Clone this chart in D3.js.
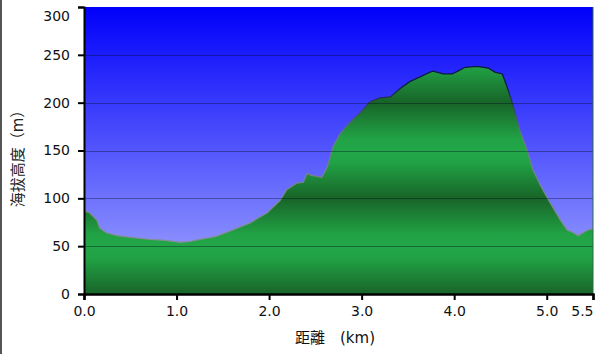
<!DOCTYPE html>
<html>
<head>
<meta charset="utf-8">
<script src="https://cdn.jsdelivr.net/npm/d3@7"></script>
<style>
    html, body { margin: 0; padding: 0; background: #fff; }
    svg { display: block; font-family: "DejaVu Sans", "Noto Sans CJK TC", sans-serif; }
</style>
</head>
<body>
<div id="chart"></div>
<script>
// Distance along the route (km)
const distance = [0.0, 0.06, 0.14, 0.17, 0.24, 0.36, 0.53, 0.71, 0.88, 1.04, 1.15, 1.25, 1.42, 1.61,
    1.79, 1.98, 2.12, 2.19, 2.30, 2.37, 2.41, 2.46, 2.57, 2.63, 2.69, 2.77, 2.88, 2.98, 3.09, 3.20,
    3.31, 3.42, 3.52, 3.63, 3.74, 3.77, 3.88, 3.98, 4.04, 4.12, 4.25, 4.37, 4.44, 4.52, 4.57, 4.64,
    4.71, 4.79, 4.85, 4.93, 5.01, 5.07, 5.15, 5.22, 5.29, 5.34, 5.39, 5.47, 5.50];

// Elevation at each point (m)
const elevation = [87, 85, 77, 69, 64, 61, 59, 57, 56, 54, 55, 57, 60, 67,
    74, 85, 98, 109, 116, 117, 126, 124, 122, 133, 154, 168, 180, 189, 201, 205,
    206, 215, 222, 227, 232, 233, 230, 230, 233, 237, 238, 236, 232, 230, 217, 196,
    171, 150, 130, 114, 100, 90, 77, 67, 64, 61, 64, 68, 67];

const xTicks = [0, 1, 2, 3, 4, 5, 5.5];
const yTicks = [0, 50, 100, 150, 200, 250, 300];

const xTitle = '距離\u3000(km)';
const yTitle = '海拔高度（m）';

const points = distance.map((d, i) => ({ x: d, y: elevation[i] }));

const width = 600;
const height = 354;
const plot = { left: 84, right: 593, top: 7, bottom: 294 };

const svg = d3.select('#chart')
    .append('svg')
    .attr('width', width)
    .attr('height', height);

// Scales
const x = d3.scaleLinear().domain([0, 5.5]).range([plot.left, plot.right]);
const y = d3.scaleLinear().domain([0, 300]).range([plot.bottom, plot.top]);

const defs = svg.append('defs');

// Sky gradient behind the profile
const sky = defs.append('linearGradient')
    .attr('id', 'sky')
    .attr('gradientUnits', 'userSpaceOnUse')
    .attr('x1', 0).attr('x2', 0)
    .attr('y1', plot.top).attr('y2', plot.bottom);
sky.append('stop').attr('offset', 0).attr('stop-color', '#0000fa');
sky.append('stop').attr('offset', 1).attr('stop-color', '#a6acff');

// Ground gradient, dark at every 100 m and light halfway between
const ground = defs.append('linearGradient')
    .attr('id', 'ground')
    .attr('gradientUnits', 'userSpaceOnUse')
    .attr('spreadMethod', 'reflect')
    .attr('x1', 0).attr('x2', 0)
    .attr('y1', y(0)).attr('y2', y(50));
ground.append('stop').attr('offset', 0).attr('stop-color', '#186428');
ground.append('stop').attr('offset', 0.75).attr('stop-color', '#21a245');
ground.append('stop').attr('offset', 1).attr('stop-color', '#22a648');

// Outline colour: dark up high, greyish lower down
const edge = defs.append('linearGradient')
    .attr('id', 'edge')
    .attr('gradientUnits', 'userSpaceOnUse')
    .attr('x1', 0).attr('x2', 0)
    .attr('y1', y(300)).attr('y2', y(0));
edge.append('stop').attr('offset', 0).attr('stop-color', '#0a1438');
edge.append('stop').attr('offset', 0.28).attr('stop-color', '#0f1e40');
edge.append('stop').attr('offset', 0.45).attr('stop-color', '#6a7a88');
edge.append('stop').attr('offset', 1).attr('stop-color', '#8a9a94');

// Outer frame line on the left
svg.append('line')
    .attr('x1', 1).attr('x2', 1)
    .attr('y1', 0).attr('y2', height)
    .attr('stroke', '#555')
    .attr('stroke-width', 2);

// Plot background
svg.append('rect')
    .attr('x', plot.left)
    .attr('y', plot.top)
    .attr('width', plot.right - plot.left)
    .attr('height', plot.bottom - plot.top)
    .attr('fill', 'url(#sky)');

// Elevation profile
const area = d3.area()
    .x(d => x(d.x))
    .y0(y(0))
    .y1(d => y(d.y));

const line = d3.line()
    .x(d => x(d.x))
    .y(d => y(d.y));

svg.append('path')
    .datum(points)
    .attr('d', area)
    .attr('fill', 'url(#ground)');

svg.append('path')
    .datum(points)
    .attr('d', line)
    .attr('fill', 'none')
    .attr('stroke', 'url(#edge)')
    .attr('stroke-width', 1.3);

// Gridlines on top of everything
svg.append('g')
    .selectAll('line')
    .data(yTicks.filter(d => d > 0 && d < 300))
    .enter()
    .append('line')
    .attr('x1', plot.left)
    .attr('x2', plot.right)
    .attr('y1', d => Math.round(y(d)) + 0.5)
    .attr('y2', d => Math.round(y(d)) + 0.5)
    .attr('stroke', 'rgba(0, 10, 30, 0.38)')
    .attr('stroke-width', 1.2);

// Right border of the plot
svg.append('line')
    .attr('x1', plot.right).attr('x2', plot.right)
    .attr('y1', plot.top).attr('y2', plot.bottom)
    .attr('stroke', '#2a6a3a')
    .attr('stroke-width', 1);

// Y axis
const yAxis = svg.append('g')
    .attr('transform', `translate(${plot.left},0)`)
    .call(d3.axisLeft(y).tickValues(yTicks).tickSize(6).tickPadding(8).tickFormat(d3.format('d')));
yAxis.select('.domain').attr('stroke', '#000').attr('stroke-width', 2);
yAxis.selectAll('.tick line').attr('stroke', '#000').attr('stroke-width', 2);
yAxis.selectAll('.tick text')
    .attr('font-size', 14)
    .attr('font-family', '"DejaVu Sans", sans-serif')
    .attr('fill', '#111')
    .attr('dy', d => d === 300 ? '0.95em' : '0.32em');

// X axis
const xAxis = svg.append('g')
    .attr('transform', `translate(0,${plot.bottom})`)
    .call(d3.axisBottom(x).tickValues(xTicks).tickSize(6).tickPadding(6).tickFormat(d3.format('.1f')));
xAxis.select('.domain').attr('stroke', '#000').attr('stroke-width', 2.5);
xAxis.selectAll('.tick line').attr('stroke', '#000').attr('stroke-width', 2);
xAxis.selectAll('.tick text')
    .attr('font-size', 14)
    .attr('font-family', '"DejaVu Sans", sans-serif')
    .attr('fill', '#111')
    .attr('text-anchor', d => d === 5.5 ? 'end' : 'middle');

// Axis titles
svg.append('text')
    .attr('x', 335)
    .attr('y', 343)
    .attr('text-anchor', 'middle')
    .attr('font-size', 15)
    .attr('fill', '#111')
    .text(xTitle);

svg.append('text')
    .attr('transform', 'translate(23,155) rotate(-90)')
    .attr('text-anchor', 'middle')
    .attr('font-size', 15)
    .attr('fill', '#222')
    .text(yTitle);
</script>
</body>
</html>
